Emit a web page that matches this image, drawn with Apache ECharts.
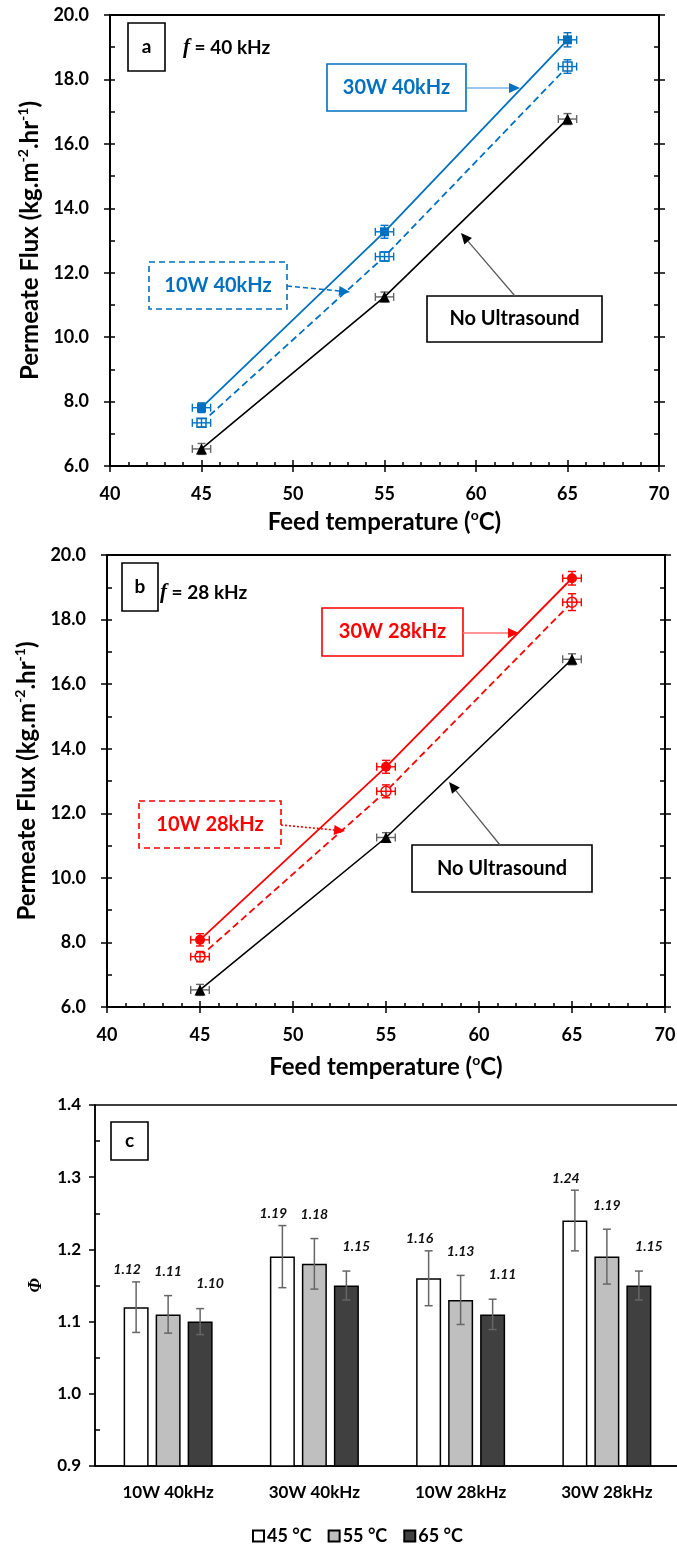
<!DOCTYPE html>
<html>
<head>
<meta charset="utf-8">
<script src="https://cdn.jsdelivr.net/npm/echarts@6/dist/echarts.min.js"></script>
<style>
  html, body { margin: 0; padding: 0; background: #ffffff; }
  #chart { width: 677px; height: 1544px; }
</style>
</head>
<body>
<div id="chart"></div>
<script>
// ---- Permeate flux vs feed temperature (panels a and b) ----
const feedTemps = [45, 55, 65];
const tempErr = [0.5, 0.5, 0.5];

const fluxNoUS = [6.53, 11.25, 16.77];
const fluxNoUSErr = [0.17, 0.15, 0.17];

const flux30W40 = [7.81, 13.27, 19.23];
const flux30W40Err = [0.15, 0.20, 0.22];
const flux10W40 = [7.34, 12.50, 18.40];
const flux10W40Err = [0.13, 0.14, 0.21];

const flux30W28 = [8.08, 13.44, 19.28];
const flux30W28Err = [0.19, 0.20, 0.21];
const flux10W28 = [7.56, 12.68, 18.54];
const flux10W28Err = [0.16, 0.20, 0.26];

const tempRange = [40, 70, 5];
const fluxRange = [6, 20, 2];

// ---- Enhancement factor (panel c) ----
const modes = ['10W 40kHz', '30W 40kHz', '10W 28kHz', '30W 28kHz'];
const tempNames = ['45 °C', '55 °C', '65 °C'];
const phi45 = [1.12, 1.19, 1.16, 1.24];
const phi55 = [1.11, 1.18, 1.13, 1.19];
const phi65 = [1.10, 1.15, 1.11, 1.15];
const phi45Err = [0.035, 0.043, 0.038, 0.042];
const phi55Err = [0.026, 0.035, 0.034, 0.038];
const phi65Err = [0.018, 0.020, 0.021, 0.020];
const phiRange = [0.9, 1.4, 0.1];

// ---- styling ----
const FONT = 'Lato';
const SERIF = '"Liberation Serif"';
const BLUE = '#0070C0';
const RED = '#FF0000';
const BLACK = '#000000';
const ERR_GRAY = '#666666';
const BAR_W = 25;
const BAR_GAP = 0.28;

const chart = echarts.init(document.getElementById('chart'), null, { renderer: 'canvas' });

const pts = (ys) => feedTemps.map((t, i) => [t, ys[i]]);

const nameRich = {
  t: { fontFamily: FONT, fontWeight: 'bold', fontSize: 24, color: BLACK, lineHeight: 28 },
  s: { fontFamily: FONT, fontWeight: 'bold', fontSize: 14, color: BLACK, lineHeight: 16, verticalAlign: 'top' }
};
const tickLine = { color: BLACK, width: 1.5 };
const tickLabel = { color: BLACK, fontFamily: FONT, fontWeight: 'bold', fontSize: 18 };

function fluxAxes(g, xNameGap) {
  const [xmin, xmax, xstep] = tempRange;
  const [ymin, ymax, ystep] = fluxRange;
  const xAxes = [
    {
      gridIndex: g, type: 'value', position: 'bottom', min: xmin, max: xmax, interval: xstep,
      axisLine: { show: true, onZero: false, lineStyle: { color: BLACK, width: 2 } },
      axisTick: { show: true, length: 6, lineStyle: tickLine },
      axisLabel: Object.assign({ margin: 19 }, tickLabel),
      splitLine: { show: false },
      name: '{t|Feed temperature (}{s|o}{t|C)}',
      nameLocation: 'middle', nameGap: xNameGap, nameMoveOverlap: false,
      nameTextStyle: { rich: nameRich }
    },
    {
      gridIndex: g, type: 'value', position: 'bottom', min: xmin, max: xmax, interval: xstep,
      axisLine: { show: false },
      axisTick: { show: true, inside: true, length: 6, lineStyle: tickLine },
      minorTick: { show: true, splitNumber: 5, length: 4, lineStyle: tickLine },
      axisLabel: { show: false }, splitLine: { show: false }
    }
  ];
  const yAxes = [
    {
      gridIndex: g, type: 'value', position: 'left', min: ymin, max: ymax, interval: ystep,
      axisLine: { show: true, onZero: false, lineStyle: { color: BLACK, width: 2 } },
      axisTick: { show: true, length: 6, lineStyle: tickLine },
      axisLabel: Object.assign({ margin: 21, formatter: (v) => v.toFixed(1) }, tickLabel),
      splitLine: { show: false },
      name: '{t|Permeate Flux (kg.m}{s|-2}{t|.hr}{s|-1}{t|)}',
      nameLocation: 'middle', nameGap: 66, nameRotate: 90, nameMoveOverlap: false,
      nameTextStyle: { rich: nameRich }
    },
    {
      gridIndex: g, type: 'value', position: 'left', min: ymin, max: ymax, interval: ystep,
      axisLine: { show: false },
      axisTick: { show: true, inside: true, length: 5, lineStyle: tickLine },
      minorTick: { show: true, splitNumber: 2, length: 5, lineStyle: tickLine },
      axisLabel: { show: false }, splitLine: { show: false }
    },
    {
      gridIndex: g, type: 'value', position: 'right', min: ymin, max: ymax, interval: ystep,
      axisLine: { show: true, onZero: false, lineStyle: { color: BLACK, width: 2 } },
      axisTick: { show: true, length: 6, lineStyle: tickLine },
      axisLabel: { show: false }, splitLine: { show: false }
    },
    {
      gridIndex: g, type: 'value', position: 'right', min: ymin, max: ymax, interval: ystep,
      axisLine: { show: false },
      axisTick: { show: true, inside: true, length: 5, lineStyle: tickLine },
      minorTick: { show: true, splitNumber: 2, length: 5, lineStyle: tickLine },
      axisLabel: { show: false }, splitLine: { show: false }
    }
  ];
  return { xAxes, yAxes };
}

// line with markers
function fluxLine(name, ys, xi, yi, color, marker) {
  return {
    name, type: 'line', xAxisIndex: xi, yAxisIndex: yi, data: pts(ys),
    symbol: marker.symbol, symbolSize: marker.size, showSymbol: true,
    lineStyle: { color, width: marker.width, type: marker.dash || 'solid' },
    itemStyle: { color: marker.fill, borderColor: color, borderWidth: marker.border || 0 },
    z: marker.z, animation: false, silent: true
  };
}

// x and y error bars for one curve
function fluxErr(ys, errs, xi, yi, color, z) {
  return {
    type: 'custom', xAxisIndex: xi, yAxisIndex: yi, z, silent: true, animation: false,
    encode: { x: 0, y: 1 },
    data: feedTemps.map((t, i) => [t, ys[i], tempErr[i], errs[i]]),
    renderItem(params, api) {
      const x = api.value(0), y = api.value(1), ex = api.value(2), ey = api.value(3);
      const l = api.coord([x - ex, y]), r = api.coord([x + ex, y]);
      const t = api.coord([x, y + ey]), b = api.coord([x, y - ey]);
      const c = 4;
      const st = { stroke: color, lineWidth: 1.4 };
      const segs = [
        [l[0], l[1], r[0], r[1]],
        [l[0], l[1] - c, l[0], l[1] + c],
        [r[0], r[1] - c, r[0], r[1] + c],
        [t[0], t[1], b[0], b[1]],
        [t[0] - c, t[1], t[0] + c, t[1]],
        [b[0] - c, b[1], b[0] + c, b[1]]
      ];
      return {
        type: 'group',
        children: segs.map((s) => ({ type: 'line', shape: { x1: s[0], y1: s[1], x2: s[2], y2: s[3] }, style: st }))
      };
    }
  };
}

const phiColors = ['#FFFFFF', '#BFBFBF', '#404040'];
const phiLabelShift = [[-9, -12], [0, -24], [10, -25]];

function phiBar(k, vals) {
  return {
    name: tempNames[k], type: 'bar', xAxisIndex: 4, yAxisIndex: 8,
    data: vals, barWidth: BAR_W, barGap: (BAR_GAP * 100) + '%',
    itemStyle: { color: phiColors[k], borderColor: BLACK, borderWidth: 1.5 },
    z: 2, animation: false, silent: true
  };
}

function phiErr(k, vals, errs) {
  const shift = phiLabelShift[k];
  return {
    name: 'phi-err-' + k, type: 'custom', xAxisIndex: 4, yAxisIndex: 8, z: 4,
    silent: true, animation: false,
    data: vals.map((v, i) => [i, v, errs[i]]),
    encode: { x: 0, y: 1 },
    renderItem(params, api) {
      const i = api.value(0), v = api.value(1), e = api.value(2);
      const dx = (k - 1) * BAR_W * (1 + BAR_GAP);
      const x = api.coord([i, v])[0] + dx;
      const yt = api.coord([i, v + e])[1];
      const yb = api.coord([i, v - e])[1];
      const c = 4;
      const st = { stroke: ERR_GRAY, lineWidth: 1.5 };
      return {
        type: 'group',
        children: [
          { type: 'line', shape: { x1: x, y1: yt, x2: x, y2: yb }, style: st },
          { type: 'line', shape: { x1: x - c, y1: yt, x2: x + c, y2: yt }, style: st },
          { type: 'line', shape: { x1: x - c, y1: yb, x2: x + c, y2: yb }, style: st },
          {
            type: 'text', x: x + shift[0], y: yt + shift[1],
            style: {
              text: v.toFixed(2), fill: '#111111', align: 'center', verticalAlign: 'middle',
              fontFamily: FONT, fontStyle: 'italic', fontWeight: 'bold', fontSize: 14
            }
          }
        ]
      };
    }
  };
}

// ---- annotation helpers ----
function labelBox(x, y, w, h, text, color, dash) {
  return [
    {
      type: 'rect', z: 100, shape: { x, y, width: w, height: h },
      style: { fill: '#ffffff', stroke: color, lineWidth: 1.6, lineDash: dash || null }
    },
    {
      type: 'text', z: 101, x: x + w / 2, y: y + h / 2,
      style: {
        text, fill: color, align: 'center', verticalAlign: 'middle',
        fontFamily: FONT, fontWeight: 'bold', fontSize: 20
      }
    }
  ];
}

function arrow(x1, y1, x2, y2, color, width, dash, headColor) {
  const ang = Math.atan2(y2 - y1, x2 - x1);
  const L = 11, W = 5;
  const bx = x2 - L * Math.cos(ang), by = y2 - L * Math.sin(ang);
  const px = -Math.sin(ang) * W, py = Math.cos(ang) * W;
  return [
    {
      type: 'line', z: 100, shape: { x1, y1, x2: bx, y2: by },
      style: { stroke: color, lineWidth: width, lineDash: dash || null }
    },
    {
      type: 'polygon', z: 100, shape: { points: [[x2, y2], [bx + px, by + py], [bx - px, by - py]] },
      style: { fill: headColor || color }
    }
  ];
}

function panelTag(x, y, w, h, letter) {
  return [
    { type: 'rect', z: 100, shape: { x, y, width: w, height: h }, style: { fill: '#ffffff', stroke: BLACK, lineWidth: 1.6 } },
    {
      type: 'text', z: 101, x: x + w / 2, y: y + h / 2,
      style: { text: letter, fill: BLACK, align: 'center', verticalAlign: 'middle', fontFamily: FONT, fontWeight: 'bold', fontSize: 19 }
    }
  ];
}

function freqText(x, y, khz) {
  return {
    type: 'text', z: 101, x, y,
    style: {
      text: '{i|f}{t| = ' + khz + ' kHz}', align: 'left', verticalAlign: 'middle',
      rich: {
        i: { fontFamily: SERIF, fontStyle: 'italic', fontWeight: 'bold', fontSize: 21, fill: BLACK },
        t: { fontFamily: FONT, fontWeight: 'bold', fontSize: 19, fill: BLACK }
      }
    }
  };
}

const a = fluxAxes(0, 42);
const b = fluxAxes(1, 46);

const xAxis = [
  ...a.xAxes, ...b.xAxes,
  {
    gridIndex: 2, type: 'category', data: modes, position: 'bottom',
    axisLine: { show: true, onZero: false, lineStyle: { color: BLACK, width: 1.5 } },
    axisTick: { show: false },
    axisLabel: { margin: 18, color: BLACK, fontFamily: FONT, fontWeight: 'bold', fontSize: 17 },
    splitLine: { show: false }
  }
];

const yAxis = [
  ...a.yAxes, ...b.yAxes,
  {
    gridIndex: 2, type: 'value', position: 'left', min: phiRange[0], max: phiRange[1], interval: phiRange[2],
    axisLine: { show: true, onZero: false, lineStyle: { color: BLACK, width: 1.5 } },
    axisTick: { show: true, length: 6, lineStyle: { color: BLACK, width: 1.5 } },
    axisLabel: { margin: 14, color: BLACK, fontFamily: FONT, fontWeight: 'bold', fontSize: 17, formatter: (v) => v.toFixed(1) },
    splitLine: { show: false },
    name: 'Φ', nameLocation: 'middle', nameGap: 50, nameRotate: 90, nameMoveOverlap: false,
    nameTextStyle: { fontFamily: SERIF, fontStyle: 'italic', fontWeight: 'bold', fontSize: 18, color: BLACK }
  },
  {
    gridIndex: 2, type: 'value', position: 'left', min: phiRange[0], max: phiRange[1], interval: phiRange[2],
    axisLine: { show: false },
    axisTick: { show: false, inside: true },
    minorTick: { show: true, splitNumber: 2, length: 5, lineStyle: { color: BLACK, width: 1.5 } },
    axisLabel: { show: false }, splitLine: { show: false }
  }
];

const series = [
  // panel a
  fluxErr(fluxNoUS, fluxNoUSErr, 0, 0, ERR_GRAY, 2),
  fluxLine('No Ultrasound', fluxNoUS, 0, 0, BLACK, { symbol: 'triangle', size: 11, width: 1.6, fill: BLACK, z: 3 }),
  fluxLine('10W 40kHz', flux10W40, 0, 0, BLUE, { symbol: 'rect', size: 9, width: 1.8, dash: [7, 4], fill: '#ffffff', border: 1.5, z: 3 }),
  fluxErr(flux10W40, flux10W40Err, 0, 0, BLUE, 4),
  fluxLine('30W 40kHz', flux30W40, 0, 0, BLUE, { symbol: 'rect', size: 9, width: 1.8, fill: BLUE, z: 3 }),
  fluxErr(flux30W40, flux30W40Err, 0, 0, BLUE, 4),
  // panel b
  fluxErr(fluxNoUS, fluxNoUSErr, 2, 4, ERR_GRAY, 2),
  fluxLine('No Ultrasound', fluxNoUS, 2, 4, BLACK, { symbol: 'triangle', size: 11, width: 1.6, fill: BLACK, z: 3 }),
  fluxLine('10W 28kHz', flux10W28, 2, 4, RED, { symbol: 'circle', size: 10, width: 1.8, dash: [7, 4], fill: '#ffffff', border: 1.5, z: 3 }),
  fluxErr(flux10W28, flux10W28Err, 2, 4, RED, 4),
  fluxLine('30W 28kHz', flux30W28, 2, 4, RED, { symbol: 'circle', size: 10, width: 1.8, fill: RED, z: 3 }),
  fluxErr(flux30W28, flux30W28Err, 2, 4, RED, 4),
  // panel c
  phiBar(0, phi45), phiBar(1, phi55), phiBar(2, phi65),
  phiErr(0, phi45, phi45Err), phiErr(1, phi55, phi55Err), phiErr(2, phi65, phi65Err)
];

const graphics = [
  // panel a
  ...panelTag(128, 23, 37, 48, 'a'),
  freqText(183, 48, 40),
  ...labelBox(327, 64, 139, 47, '30W 40kHz', BLUE),
  ...arrow(466, 88, 520, 88, '#3A8CD0', 1.2, null, BLUE),
  ...labelBox(149, 262, 138, 47, '10W 40kHz', BLUE, [6, 4]),
  ...arrow(287, 286, 350, 292, BLUE, 1.6, [5, 3], BLUE),
  ...labelBox(427, 296, 175, 46, 'No Ultrasound', BLACK),
  ...arrow(515, 296, 461, 233, '#555555', 1.2, null, BLACK),
  // panel b
  ...panelTag(122, 563, 36, 48, 'b'),
  freqText(160, 593, 28),
  ...labelBox(322, 608, 141, 48, '30W 28kHz', RED),
  ...arrow(463, 633, 519, 633, '#FF7070', 1.3, null, RED),
  ...labelBox(139, 801, 142, 47, '10W 28kHz', RED, [6, 4]),
  ...arrow(281, 825, 345, 831, RED, 1.6, [2, 2], RED),
  ...labelBox(412, 845, 180, 47, 'No Ultrasound', BLACK),
  ...arrow(500, 845, 449, 782, '#555555', 1.2, null, BLACK),
  // panel c
  ...panelTag(111, 1122, 37, 38, 'c')
];

const gridBase = { show: true, borderColor: BLACK, borderWidth: 2, backgroundColor: 'transparent', containLabel: false, outerBoundsMode: 'none' };

chart.setOption({
  animation: false,
  backgroundColor: '#ffffff',
  textStyle: { fontFamily: FONT },
  grid: [
    Object.assign({ left: 110, top: 15, width: 549, height: 451 }, gridBase),
    Object.assign({ left: 107, top: 555, width: 558, height: 452 }, gridBase),
    Object.assign({ left: 95, top: 1105, right: -3, height: 361 }, gridBase, { borderWidth: 1.5 })
  ],
  xAxis,
  yAxis,
  legend: {
    data: tempNames, top: 1522, left: 247, orient: 'horizontal',
    icon: 'rect', itemWidth: 11, itemHeight: 11, itemGap: 16,
    selectedMode: false,
    textStyle: { fontFamily: FONT, fontWeight: 'bold', fontSize: 18, color: BLACK, padding: [0, 0, 0, -2] }
  },
  series,
  graphic: graphics
});
</script>
</body>
</html>
